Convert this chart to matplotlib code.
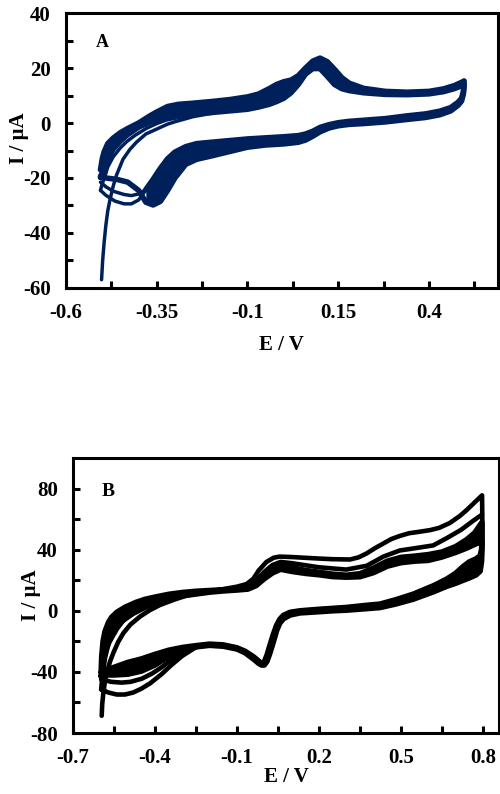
import matplotlib
matplotlib.use("Agg")
import matplotlib.pyplot as plt

plt.rcParams["font.family"] = "serif"
plt.rcParams["font.serif"] = ["Liberation Serif", "DejaVu Serif"]
plt.rcParams["font.weight"] = "bold"
plt.rcParams["axes.unicode_minus"] = False

NAVY = "#00205B"

# ---------------- panel A : potential (V) / current (uA) ----------------
# band of repeated cycles, anodic sweep (upper / lower edge of the band)
A_fwd_E = [-0.505, -0.50, -0.495, -0.485, -0.47, -0.45, -0.43, -0.40, -0.37, -0.35,
           -0.32, -0.29, -0.25, -0.20, -0.15, -0.10, -0.07, -0.04, -0.02, 0.00,
           0.02, 0.04, 0.06, 0.08, 0.10, 0.12, 0.14, 0.16, 0.18, 0.22,
           0.28, 0.34, 0.40, 0.44, 0.47, 0.49, 0.497]
A_fwd_hi = [-17.0, -13.0, -10.5, -7.5, -5.5, -3.5, -2.0, 0.0, 2.5, 4.0,
            6.0, 6.8, 7.2, 7.8, 8.5, 9.5, 10.5, 12.5, 14.0, 15.0,
            15.6, 17.2, 20.0, 22.5, 23.6, 22.3, 19.5, 16.5, 14.5, 12.6,
            11.5, 11.2, 11.5, 12.4, 13.6, 14.8, 15.3]
A_fwd_lo = [-19.5, -18.0, -16.0, -13.0, -9.5, -6.5, -4.2, -1.5, 0.3, 1.3,
            2.4, 3.0, 3.4, 3.8, 4.4, 5.0, 5.8, 6.8, 7.8, 9.0,
            11.0, 14.0, 17.8, 19.8, 19.8, 17.0, 14.0, 12.5, 11.8, 11.0,
            10.4, 10.3, 10.6, 11.4, 12.5, 13.5, 14.0]
# cathodic sweep of the band
A_rev_E = [0.497, 0.495, 0.49, 0.48, 0.46, 0.43, 0.39, 0.34, 0.28, 0.22,
           0.18, 0.15, 0.125, 0.10, 0.08, 0.06, 0.04, 0.00, -0.05, -0.10,
           -0.15, -0.20, -0.24, -0.27, -0.30, -0.32, -0.34, -0.36, -0.38]
A_rev_hi = [14.5, 11.5, 9.0, 7.5, 5.6, 4.3, 3.3, 2.6, 1.6, 1.0,
            0.6, 0.1, -0.6, -1.6, -3.0, -4.0, -4.6, -5.0, -5.4, -5.8,
            -6.4, -7.0, -7.5, -8.6, -10.6, -13.0, -16.5, -20.5, -24.2]
A_rev_lo = [13.5, 10.5, 8.0, 6.4, 4.4, 3.0, 2.0, 1.3, 0.4, -0.2,
            -0.5, -1.0, -1.8, -3.2, -4.8, -6.2, -7.0, -7.6, -8.0, -8.8,
            -10.4, -12.0, -13.2, -15.0, -20.0, -24.5, -28.5, -29.8, -28.8]
# end of the cathodic sweeps near the negative vertex
A_tail1_E = [-0.38, -0.40, -0.42, -0.44, -0.465, -0.49, -0.505]
A_tail1_I = [-24.4, -28.0, -29.4, -29.4, -28.4, -26.3, -24.5]
A_tail2_E = [-0.38, -0.40, -0.42, -0.44, -0.47, -0.49, -0.505]
A_tail2_I = [-24.2, -25.8, -26.4, -26.0, -24.8, -23.2, -21.5]
A_tail3_E = [-0.38, -0.40, -0.43, -0.46, -0.49, -0.505]
A_tail3_I = [-28.8, -24.5, -21.5, -20.5, -20.0, -19.8]
# first anodic scans, before they merge into the band
A_scan1_E = [-0.502, -0.499, -0.495, -0.49, -0.485, -0.479, -0.47, -0.461, -0.443,
             -0.424, -0.406, -0.38, -0.35, -0.32, -0.296, -0.25, -0.20]
A_scan1_I = [-57.0, -50.0, -43.5, -37.0, -32.0, -28.0, -23.0, -19.0, -13.2,
             -9.6, -7.0, -4.0, -2.2, -0.4, 0.6, 2.3, 3.5]
A_scan2_E = [-0.505, -0.50, -0.493, -0.485, -0.47, -0.45, -0.433, -0.41, -0.378,
             -0.35, -0.323, -0.29, -0.259, -0.22]
A_scan2_I = [-24.5, -22.0, -19.5, -16.0, -12.3, -9.0, -6.8, -4.5, -1.9,
             -0.2, 1.1, 2.0, 2.5, 3.2]

A_xticks = [-0.6, -0.35, -0.1, 0.15, 0.4]
A_xticklabels = ["-0.6", "-0.35", "-0.1", "0.15", "0.4"]
A_xminor = [-0.475, -0.225, 0.025, 0.275, 0.525]
A_yticks = [-60, -40, -20, 0, 20, 40]
A_yminor = [-50, -30, -10, 10, 30]

# ---------------- panel B ----------------
B_fwd_E = [-0.597, -0.595, -0.59, -0.583, -0.57, -0.559, -0.54, -0.51, -0.47, -0.437,
           -0.40, -0.35, -0.30, -0.25, -0.20, -0.15, -0.10, -0.06, -0.03, 0.00,
           0.03, 0.06, 0.10, 0.15, 0.20, 0.25, 0.30, 0.35, 0.40, 0.45,
           0.50, 0.55, 0.60, 0.65, 0.70, 0.74, 0.77, 0.797]
B_fwd_hi = [-40.0, -30.0, -20.0, -13.5, -7.5, -4.3, -1.0, 2.3, 5.5, 7.5,
            9.0, 10.8, 12.0, 12.8, 13.3, 13.8, 14.5, 15.5, 19.0, 24.5,
            28.5, 29.8, 28.2, 26.5, 25.2, 24.0, 23.3, 24.3, 28.0, 32.5,
            35.0, 35.8, 36.8, 38.5, 42.0, 46.5, 51.0, 58.0]
B_fwd_lo = [-43.0, -40.0, -34.0, -27.0, -21.0, -17.4, -11.5, -4.4, -0.3, 3.2,
            5.2, 8.0, 9.8, 11.0, 12.2, 13.0, 13.6, 14.2, 16.5, 21.0,
            24.8, 27.2, 25.8, 24.5, 23.6, 22.4, 22.0, 22.3, 25.0, 29.2,
            31.5, 32.5, 33.0, 35.2, 38.2, 41.0, 43.5, 45.5]
B_rev_E = [0.797, 0.795, 0.79, 0.775, 0.75, 0.728, 0.70, 0.667, 0.62, 0.545,
           0.48, 0.423, 0.374, 0.30, 0.25, 0.20, 0.13, 0.094, 0.07, 0.057,
           0.045, 0.033, 0.02, 0.01, 0.0, -0.01, -0.02, -0.04, -0.07, -0.10,
           -0.15, -0.20, -0.25, -0.30, -0.35, -0.40, -0.45, -0.50, -0.55, -0.58, -0.597]
B_rev_hi = [46.0, 40.0, 36.0, 34.0, 32.0, 29.0, 24.5, 20.7, 16.5, 10.9,
            7.2, 4.4, 3.6, 2.2, 1.6, 1.0, 0.0, -1.0, -3.0, -5.5,
            -9.5, -15.5, -23.0, -29.0, -33.5, -35.0, -33.0, -30.0, -26.5, -24.2,
            -22.3, -21.8, -22.8, -24.0, -25.8, -28.5, -31.5, -33.8, -37.0, -39.0, -40.5]
B_rev_lo = [40.0, 32.0, 26.0, 23.5, 21.5, 20.0, 18.0, 16.0, 12.5, 7.6,
            4.4, 2.1, 1.4, 0.4, 0.0, -0.6, -1.4, -2.8, -5.2, -8.0,
            -13.0, -20.5, -28.0, -33.0, -35.5, -35.5, -34.5, -31.5, -27.5, -25.0,
            -23.2, -22.6, -23.6, -25.6, -29.8, -35.5, -39.5, -41.5, -42.0, -42.0, -42.5]
# first cycle
B_cyc1_fwd_E = [-0.595, -0.593, -0.589, -0.583, -0.577, -0.565, -0.553, -0.535, -0.516,
                -0.49, -0.455, -0.42, -0.382, -0.33, -0.284, -0.22, -0.15, -0.10,
                -0.065, -0.04, -0.02, 0.008, 0.035, 0.057, 0.10, 0.191, 0.25,
                0.314, 0.345, 0.374, 0.405, 0.435, 0.465, 0.496, 0.53, 0.558,
                0.606, 0.64, 0.679, 0.715, 0.741, 0.77, 0.797]
B_cyc1_fwd_I = [-68.7, -61.0, -53.9, -46.0, -40.8, -33.5, -27.8, -20.5, -14.7,
                -9.0, -3.8, 0.3, 3.8, 7.3, 10.0, 12.3, 14.2, 15.8,
                17.5, 21.0, 26.5, 32.0, 34.8, 35.5, 35.2, 34.3, 33.8,
                33.6, 35.0, 37.5, 41.0, 44.0, 47.0, 49.0, 50.8, 51.5,
                52.8, 54.3, 57.5, 62.0, 66.0, 71.0, 75.6]
B_cyc1_rev_E = [0.797, 0.798, 0.797, 0.795, 0.79, 0.775, 0.75, 0.728, 0.70, 0.667,
                0.62, 0.545, 0.48, 0.423, 0.374, 0.30, 0.20, 0.13, 0.094, 0.07,
                0.057, 0.045, 0.033, 0.02, 0.01, 0.0, -0.01, -0.02, -0.04, -0.07,
                -0.10, -0.15, -0.20, -0.25, -0.30, -0.34, -0.376, -0.418, -0.45,
                -0.48, -0.51, -0.54, -0.57, -0.597]
B_cyc1_rev_I = [75.6, 60.0, 47.0, 40.0, 35.5, 33.5, 31.5, 28.5, 24.0, 20.5,
                16.3, 10.7, 7.0, 4.3, 3.3, 2.1, 0.9, -0.1, -1.1, -3.2,
                -5.8, -10.0, -16.0, -23.5, -29.5, -34.0, -35.5, -33.5, -30.5, -27.0,
                -24.6, -22.8, -22.2, -23.8, -29.5, -35.5, -41.5, -47.5, -51.0,
                -53.5, -54.8, -54.8, -53.5, -51.5]
# second cycle (anodic sweep and the end of its cathodic sweep)
B_cyc2_fwd_E = [-0.597, -0.594, -0.59, -0.583, -0.57, -0.55, -0.52, -0.48, -0.43,
                -0.37, -0.30, -0.22, -0.15, -0.10, -0.06, -0.03, 0.0, 0.03, 0.06,
                0.10, 0.20, 0.30, 0.375, 0.436, 0.496, 0.545, 0.618, 0.667, 0.72,
                0.765, 0.797]
B_cyc2_fwd_I = [-51.5, -46.0, -40.0, -31.0, -21.5, -13.5, -7.0, -2.0, 2.5,
                6.5, 9.8, 12.0, 13.5, 14.5, 15.5, 19.5, 25.5, 30.0, 32.0,
                31.2, 28.5, 27.0, 29.5, 35.5, 39.5, 40.8, 42.8, 47.5, 53.0,
                59.0, 63.0]
B_tail2_E = [-0.25, -0.30, -0.34, -0.376, -0.41, -0.449, -0.49, -0.522, -0.56, -0.583, -0.597]
B_tail2_I = [-23.8, -27.0, -32.0, -37.0, -41.0, -44.5, -46.5, -47.0, -46.5, -45.5, -45.0]

B_xticks = [-0.7, -0.4, -0.1, 0.2, 0.5, 0.8]
B_xticklabels = ["-0.7", "-0.4", "-0.1", "0.2", "0.5", "0.8"]
B_xminor = [-0.55, -0.25, 0.05, 0.35, 0.65]
B_yticks = [-80, -40, 0, 40, 80]
B_yminor = [-60, -20, 20, 60]

line_kw = dict(solid_capstyle="round", solid_joinstyle="round")


def style_axes(ax, xlim, ylim, xt, xtl, xmin, yt, ymin):
    ax.set_xlim(*xlim)
    ax.set_ylim(*ylim)
    ax.set_xticks(xt)
    ax.set_xticklabels(xtl)
    ax.set_xticks(xmin, minor=True)
    ax.set_yticks(yt)
    ax.set_yticklabels([str(v) for v in yt])
    ax.set_yticks(ymin, minor=True)
    ax.tick_params(which="both", direction="in", length=5, width=2.2,
                   top=False, right=False, pad=11, labelsize=15)
    for sp in ax.spines.values():
        sp.set_linewidth(2.2)


fig = plt.figure(figsize=(5.0, 7.94), dpi=100)

# ---- A ----
axA = fig.add_axes([0.132, 0.6373, 0.863, 0.3463])
axA.fill_between(A_fwd_E, A_fwd_lo, A_fwd_hi, color=NAVY, lw=0)
axA.fill_between(A_rev_E, A_rev_lo, A_rev_hi, color=NAVY, lw=0)
axA.plot(A_fwd_E + A_rev_E, A_fwd_hi + A_rev_hi, color=NAVY, lw=4.0, **line_kw)
axA.plot(A_fwd_E + A_rev_E + A_tail3_E, A_fwd_lo + A_rev_lo + A_tail3_I,
         color=NAVY, lw=4.0, **line_kw)
for e, i in [(A_tail1_E, A_tail1_I), (A_tail2_E, A_tail2_I),
             (A_scan1_E, A_scan1_I), (A_scan2_E, A_scan2_I)]:
    axA.plot(e, i, color=NAVY, lw=2.5, **line_kw)
style_axes(axA, (-0.6, 0.589), (-60, 40), A_xticks, A_xticklabels, A_xminor,
           A_yticks, A_yminor)
axA.set_xlabel("E / V", fontsize=15, fontweight="bold")
axA.set_ylabel("I / \u00b5A", fontsize=15, fontweight="bold")
axA.xaxis.label.set_va("center")
axA.yaxis.label.set_va("center")
axA.xaxis.set_label_coords(0.5, -0.207)
axA.yaxis.set_label_coords(-0.110, 0.545)
axA.text(0.085, 0.891, "A", transform=axA.transAxes, fontsize=13,
         fontweight="bold", ha="center", va="center")

# ---- B ----
axB = fig.add_axes([0.146, 0.0768, 0.852, 0.3463])
axB.fill_between(B_fwd_E, B_fwd_lo, B_fwd_hi, color="black", lw=0)
axB.fill_between(B_rev_E, B_rev_lo, B_rev_hi, color="black", lw=0)
axB.plot(B_fwd_E + B_rev_E, B_fwd_hi + B_rev_hi, color="black", lw=4.0, **line_kw)
axB.plot(B_fwd_E + B_rev_E, B_fwd_lo + B_rev_lo, color="black", lw=4.0, **line_kw)
axB.plot(B_cyc1_fwd_E + B_cyc1_rev_E, B_cyc1_fwd_I + B_cyc1_rev_I,
         color="black", lw=3.3, **line_kw)
axB.plot(B_cyc2_fwd_E, B_cyc2_fwd_I, color="black", lw=3.3, **line_kw)
axB.plot(B_tail2_E, B_tail2_I, color="black", lw=3.3, **line_kw)
style_axes(axB, (-0.7, 0.859), (-80, 100), B_xticks, B_xticklabels, B_xminor,
           B_yticks, B_yminor)
axB.set_xlabel("E / V", fontsize=15, fontweight="bold")
axB.set_ylabel("I / \u00b5A", fontsize=15, fontweight="bold")
axB.xaxis.label.set_va("center")
axB.yaxis.label.set_va("center")
axB.xaxis.set_label_coords(0.5, -0.159)
axB.yaxis.set_label_coords(-0.099, 0.502)
axB.text(0.082, 0.88, "B", transform=axB.transAxes, fontsize=14,
         fontweight="bold", ha="center", va="center")

fig.savefig("out.png", dpi=100)
